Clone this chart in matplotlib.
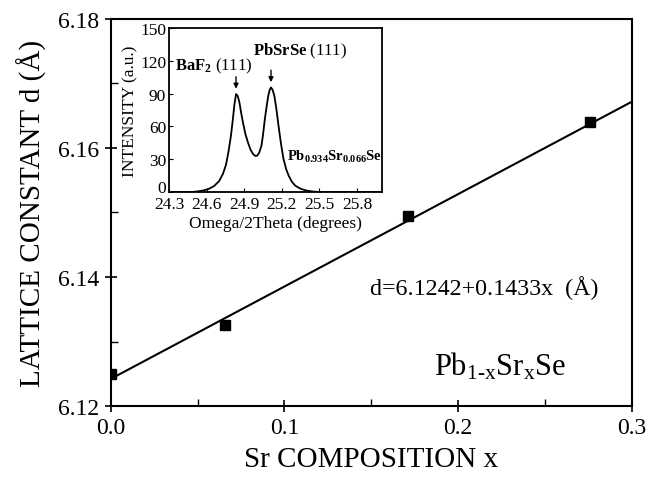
import matplotlib
matplotlib.use("Agg")
import matplotlib.pyplot as plt
import numpy as np

plt.rcParams['font.family'] = ['Liberation Serif', 'DejaVu Serif']
plt.rcParams['mathtext.fontset'] = 'custom'
plt.rcParams['mathtext.rm'] = 'Liberation Serif'
plt.rcParams['mathtext.it'] = 'Liberation Serif:italic'
plt.rcParams['mathtext.bf'] = 'Liberation Serif:bold'

# Main data: Sr composition vs lattice constant
sr_x = [0.0, 0.066, 0.171, 0.276]
lattice_d = [6.1250, 6.1326, 6.1494, 6.1641]
fit_intercept = 6.1242
fit_slope = 0.1433

# Inset: XRD Omega/2Theta scan of Pb0.934Sr0.066Se on BaF2
scan_deg = [24.30, 24.40, 24.48, 24.53, 24.58, 24.62, 24.66, 24.70, 24.73, 24.755,
            24.775, 24.795, 24.81, 24.822, 24.835, 24.848, 24.862, 24.875, 24.89,
            24.91, 24.93, 24.95, 24.97, 24.99, 25.003, 25.02, 25.038, 25.05,
            25.065, 25.08, 25.092, 25.104, 25.114, 25.127, 25.141, 25.157, 25.174,
            25.194, 25.214, 25.235, 25.255, 25.28, 25.308, 25.35, 25.39, 25.44,
            25.50, 25.70, 26.00]
scan_int = [0.0, 0.0, 0.0, 0.6, 1.6, 3.0, 5.5, 10.0, 16.5, 25.0,
            37.0, 52.0, 67.0, 80.0, 89.6, 88.0, 82.0, 73.0, 63.7,
            53.0, 45.4, 39.0, 34.8, 33.0, 33.2, 36.0, 42.4, 52.0,
            66.8, 79.0, 88.0, 93.5, 95.7, 93.5, 88.0, 76.0, 60.7,
            44.0, 30.2, 21.0, 15.0, 9.5, 5.8, 3.0, 1.5, 0.6,
            0.0, 0.0, 0.0]

fig = plt.figure(figsize=(6.49, 4.85), dpi=100)
ax = fig.add_axes([0.1706, 0.1608, 0.8032, 0.798])

fx = np.array([0.0, 0.3])
ax.plot(fx, fit_intercept + fit_slope * fx, color='black', lw=1.5)
ax.plot(sr_x, lattice_d, 's', color='black', ms=7.5, clip_on=True)

ax.set_xlim(0.0, 0.3)
ax.set_ylim(6.12, 6.18)
ax.set_xticks([0.0, 0.1, 0.2, 0.3])
ax.set_xticklabels(['0.0', '0.1', '0.2', '0.3'])
ax.set_yticks([6.12, 6.14, 6.16, 6.18])
ax.set_yticklabels(['6.12', '6.14', '6.16', '6.18'])
ax.set_xticks([0.05, 0.15, 0.25], minor=True)
ax.set_yticks([6.13, 6.15, 6.17], minor=True)
ax.tick_params(which='major', direction='inout', length=8, width=1.2, labelsize=17, pad=4)
ax.tick_params(which='minor', direction='in', length=5, width=1.0)
for s in ax.spines.values():
    s.set_linewidth(1.5)

ax.set_xlabel('Sr COMPOSITION x', fontsize=21, labelpad=6)
ax.set_ylabel('LATTICE CONSTANT d (Å)', fontsize=21, labelpad=8)

ax.text(0.149, 6.1384, 'd=6.1242+0.1433x  (Å)', fontsize=17.3, ha='left', va='center')
ax.text(0.224, 6.1262, r'Pb$_{\mathrm{1\text{-}x}}$Sr$_{\mathrm{x}}$Se', fontsize=22,
        ha='center', va='center')

# Inset
ins = fig.add_axes([0.2604, 0.602, 0.3282, 0.338])
ins.plot(scan_deg, scan_int, color='black', lw=1.3)
ins.set_xlim(24.3, 26.0)
ins.set_ylim(0, 150)
ins.set_xticks([24.3, 24.6, 24.9, 25.2, 25.5, 25.8])
ins.set_xticklabels(['24.3', '24.6', '24.9', '25.2', '25.5', '25.8'])
ins.set_yticks([0, 30, 60, 90, 120, 150])
ins.set_yticklabels(['0', '30', '60', '90', '120', '150'])
ins.tick_params(axis='x', direction='in', length=3, width=0.8, labelsize=12.5, pad=3)
ins.tick_params(axis='y', direction='in', length=3, width=0.8, labelsize=12.5, pad=2)
ins.get_yticklabels()[0].set_va('baseline')
for s in ins.spines.values():
    s.set_linewidth(1.3)
ins.set_xlabel('Omega/2Theta (degrees)', fontsize=12.5, labelpad=2)
ins.set_ylabel('INTENSITY (a.u.)', fontsize=12.5, labelpad=1)

ins.annotate('', xy=(24.835, 92), xytext=(24.835, 108),
             arrowprops=dict(arrowstyle='-|>', color='black', lw=1.0, mutation_scale=7))
ins.annotate('', xy=(25.114, 98), xytext=(25.114, 114),
             arrowprops=dict(arrowstyle='-|>', color='black', lw=1.0, mutation_scale=7))
ins.text(24.35, 116, r'$\mathbf{BaF_2}$ (111)', fontsize=12, ha='left', va='center')
ins.text(24.97, 130, r'$\mathbf{PbSrSe}$ (111)', fontsize=12, ha='left', va='center')
ins.text(25.24, 33, r'$\mathbf{Pb_{0.934}Sr_{0.066}Se}$', fontsize=10.5, ha='left', va='center')

fig.savefig('out.png', dpi=100)
